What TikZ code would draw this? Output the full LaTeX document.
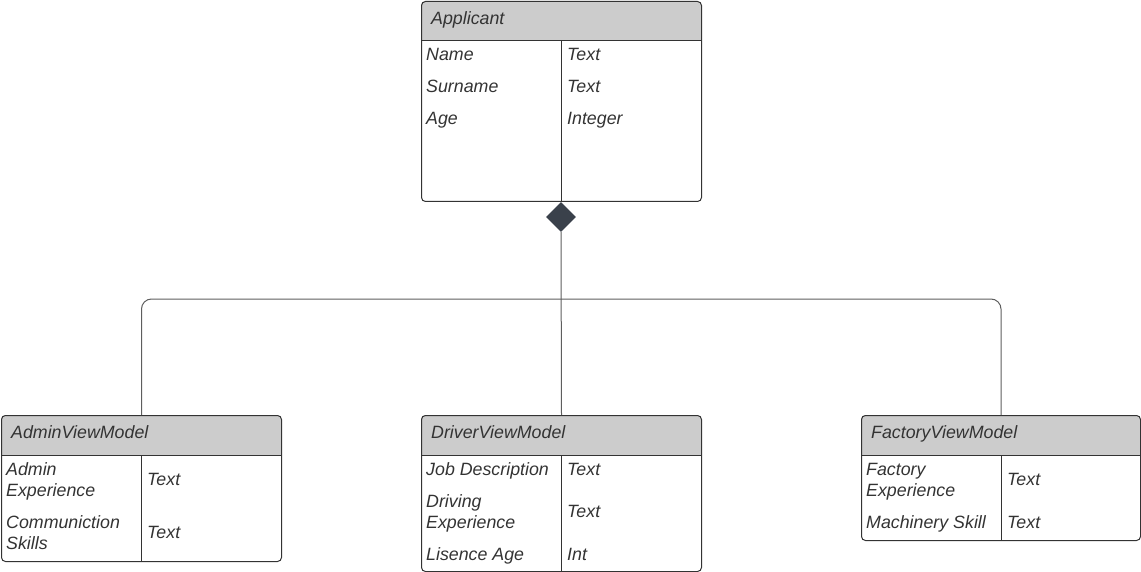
\documentclass[tikz,border=0pt]{standalone}
\usepackage{fontspec}
\setmainfont{Liberation Sans}
\usetikzlibrary{shapes.geometric}
\definecolor{hdrgray}{HTML}{CCCCCC}
\definecolor{boxline}{HTML}{333333}
\definecolor{connline}{HTML}{5E5E5E}
\definecolor{diamondfill}{HTML}{3A414B}
\definecolor{txtgray}{HTML}{333333}
\begin{document}
\begin{tikzpicture}[
    x=1pt, y=-1pt,
    every node/.style={font=\fontsize{17.8}{21}\selectfont\itshape, text=txtgray},
    cls/.style={draw=boxline, line width=1pt, rounded corners=4pt, anchor=north west, minimum width=280pt, inner sep=0pt},
    hdr/.style={fill=hdrgray},
    sep/.style={draw=boxline, line width=1pt},
    title/.style={anchor=base west, inner sep=0pt},
    attr/.style={anchor=base west, inner sep=0pt, align=left},
    conn/.style={draw=connline, line width=1pt, rounded corners=10pt}
]
\useasboundingbox (0,0) rectangle (1141,572);

% Applicant
\fill[hdr] (421,41) [rounded corners=4pt] -- (421,1) -- (701,1) [sharp corners] -- (701,41) -- cycle;
\node[cls, minimum height=200pt] (applicant) at (421,1) {};
\draw[sep] (421,41) -- (701,41);
\draw[sep] (561,41) -- (561,201);
\node[title] (applicant-title) at (431,25) {Applicant};
\node[attr] (app-name) at (426,61) {Name};
\node[attr] (app-name-t) at (567,61) {Text};
\node[attr] (app-surname) at (426,93) {Surname};
\node[attr] (app-surname-t) at (567,93) {Text};
\node[attr] (app-age) at (426,125) {Age};
\node[attr] (app-age-t) at (567,125) {Integer};

% composition diamond
\node[diamond, fill=diamondfill, minimum width=30pt, minimum height=30pt, inner sep=0pt] (comp) at (561,217) {};

% AdminViewModel
\fill[hdr] (1,455) [rounded corners=4pt] -- (1,415) -- (281,415) [sharp corners] -- (281,455) -- cycle;
\node[cls, minimum height=146pt] (admin) at (1,415) {};
\draw[sep] (1,455) -- (281,455);
\draw[sep] (141,455) -- (141,561);
\node[title] (admin-title) at (11,438) {AdminViewModel};
\node[attr] (adm-exp) at (6,496) {Admin\\Experience};
\node[attr] (adm-exp-t) at (147,485) {Text};
\node[attr] (adm-comm) at (6,549) {Communiction\\Skills};
\node[attr] (adm-comm-t) at (147,538) {Text};

% DriverViewModel
\fill[hdr] (421,455) [rounded corners=4pt] -- (421,415) -- (701,415) [sharp corners] -- (701,455) -- cycle;
\node[cls, minimum height=156pt] (driver) at (421,415) {};
\draw[sep] (421,455) -- (701,455);
\draw[sep] (561,455) -- (561,571);
\node[title] (driver-title) at (431,438) {DriverViewModel};
\node[attr] (drv-job) at (426,475) {Job Description};
\node[attr] (drv-job-t) at (567,475) {Text};
\node[attr] (drv-exp) at (426,528) {Driving\\Experience};
\node[attr] (drv-exp-t) at (567,517) {Text};
\node[attr] (drv-age) at (426,560) {Lisence Age};
\node[attr] (drv-age-t) at (567,560) {Int};

% FactoryViewModel
\fill[hdr] (861,455) [rounded corners=4pt] -- (861,415) -- (1140,415) [sharp corners] -- (1140,455) -- cycle;
\node[cls, minimum width=279pt, minimum height=125pt] (factory) at (861,415) {};
\draw[sep] (861,455) -- (1140,455);
\draw[sep] (1001,455) -- (1001,540);
\node[title] (factory-title) at (871,438) {FactoryViewModel};
\node[attr] (fac-exp) at (866,496) {Factory\\Experience};
\node[attr] (fac-exp-t) at (1007,485) {Text};
\node[attr] (fac-mach) at (866,528) {Machinery Skill};
\node[attr] (fac-mach-t) at (1007,528) {Text};

% connectors
\coordinate (branch) at (561,299);
\draw[conn] (comp.south) -- (driver.north);
\draw[conn] (branch) -| (admin.north);
\draw[conn] (branch) -| (factory.north);
\end{tikzpicture}
\end{document}
